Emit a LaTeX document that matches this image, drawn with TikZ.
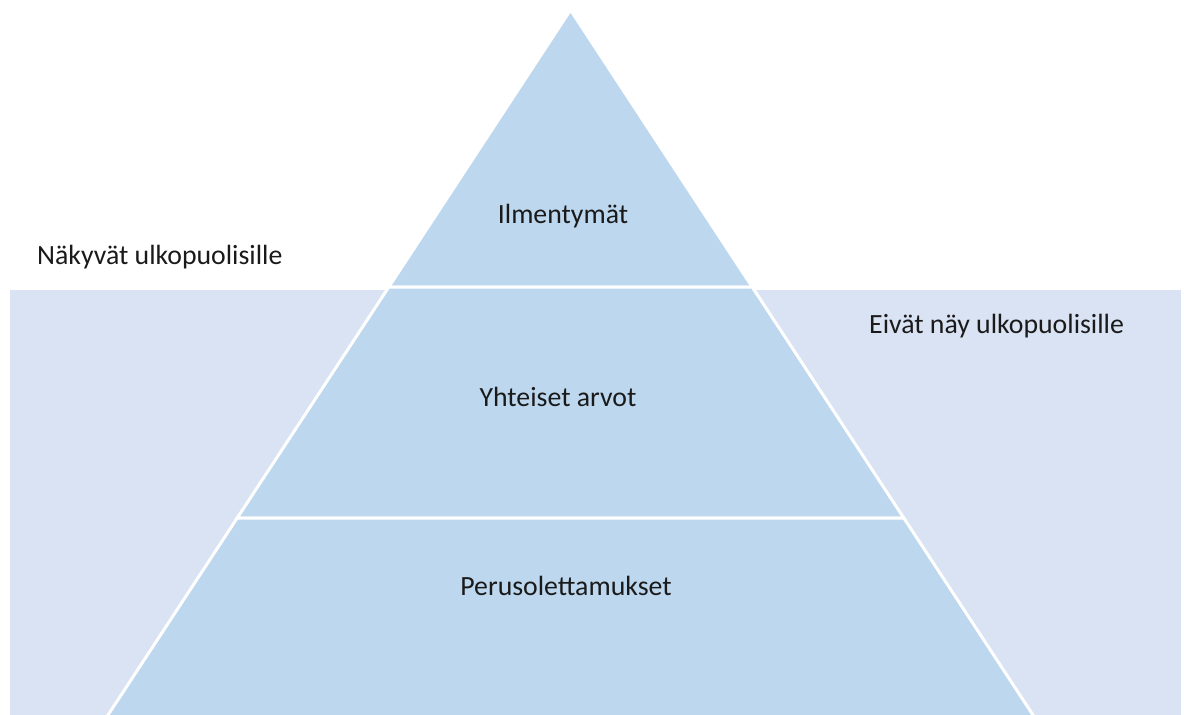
\documentclass[tikz,border=0pt]{standalone}
\usepackage{fontspec}
\setmainfont{Carlito}
\definecolor{pyr}{HTML}{BDD7EE}
\definecolor{bgband}{HTML}{DAE3F3}
\definecolor{txt}{HTML}{1A1A1A}
\begin{document}
\begin{tikzpicture}[x=1pt,y=-1pt,
  layer/.style={fill=pyr,draw=white,line width=3pt,line join=miter},
  lbl/.style={text=txt,font=\fontsize{27.8}{32}\selectfont,inner sep=0pt}]
\useasboundingbox (0,0) rectangle (1184,715);
\fill[bgband] (10,290) rectangle (1181,715);
\begin{scope}
\clip (0,0) rectangle (1184,715);
\coordinate (apex) at (570.5,10);
\coordinate (l1) at (388.8,287);
\coordinate (r1) at (752.2,287);
\coordinate (l2) at (237.2,518);
\coordinate (r2) at (903.8,518);
\coordinate (l3) at (105,719.6);
\coordinate (r3) at (1036,719.6);
\draw[layer] (apex) -- (r1) -- (l1) -- cycle;
\draw[layer] (l1) -- (r1) -- (r2) -- (l2) -- cycle;
\draw[layer] (l2) -- (r2) -- (r3) -- (l3) -- cycle;
\end{scope}
\node[lbl] (ilm) at (563,216) {Ilmentymät};
\node[lbl] (yht) at (558,397) {Yhteiset arvot};
\node[lbl] (per) at (566,586) {Perusolettamukset};
\node[lbl,anchor=west] (nak) at (37,257) {Näkyvät ulkopuolisille};
\node[lbl,anchor=west] (eiv) at (869,326) {Eivät näy ulkopuolisille};
\end{tikzpicture}
\end{document}
